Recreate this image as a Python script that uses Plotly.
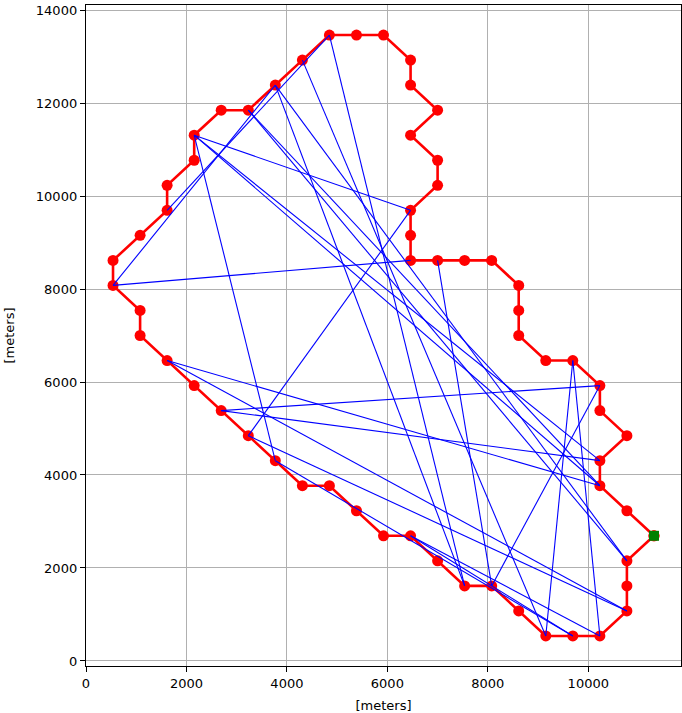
import plotly.graph_objects as go

# polygon vertices (meters), closed loop starting at the green start point
poly_x = [11308, 10769, 10231, 10231, 10769, 10231, 10231, 9692, 9154, 8615,
          8615, 8615, 8077, 7538, 7000, 6462, 6462, 6462, 7000, 7000,
          6462, 7000, 6462, 6462, 5923, 5385, 4846, 4308, 3769, 3231,
          2692, 2154, 2154, 1615, 1615, 1077, 538, 538, 1077, 1077,
          1615, 2154, 2692, 3231, 3769, 4308, 4846, 5385, 5923, 6462,
          7000, 7538, 8077, 8615, 9154, 9692, 10231, 10769, 10769, 10769]
poly_y = [2692, 3231, 3769, 4308, 4846, 5385, 5923, 6462, 6462, 7000,
          7538, 8077, 8615, 8615, 8615, 8615, 9154, 9692, 10231, 10769,
          11308, 11846, 12385, 12923, 13462, 13462, 13462, 12923, 12385, 11846,
          11846, 11308, 10769, 10231, 9692, 9154, 8615, 8077, 7538, 7000,
          6462, 5923, 5385, 4846, 4308, 3769, 3769, 3231, 2692, 2692,
          2154, 1615, 1615, 1077, 538, 538, 538, 1077, 1615, 2154]

# blue connections between polygon vertices (indices into poly_x / poly_y)
seg_a = [37, 37, 26, 31, 31, 17, 42, 42, 7, 7, 14, 52, 26, 28, 40, 40, 43, 31, 31, 29, 29, 27, 44, 49, 49, 28]
seg_b = [15, 28, 34, 44, 17, 43, 6, 3, 54, 56, 52, 6, 51, 51, 2, 57, 57, 3, 2, 59, 2, 54, 55, 56, 55, 59]

start_x = [11308]
start_y = [2692]

x_ticks = [0, 2000, 4000, 6000, 8000, 10000]
y_ticks = [0, 2000, 4000, 6000, 8000, 10000, 12000, 14000]

bx, by = [], []
for a, b in zip(seg_a, seg_b):
    bx += [poly_x[a], poly_x[b], None]
    by += [poly_y[a], poly_y[b], None]

fig = go.Figure()
fig.add_trace(go.Scatter(
    x=poly_x + [poly_x[0]], y=poly_y + [poly_y[0]], mode="lines+markers",
    line=dict(color="red", width=2.6), marker=dict(color="red", size=11),
    showlegend=False, hoverinfo="skip"))
fig.add_trace(go.Scatter(
    x=bx, y=by, mode="lines", line=dict(color="blue", width=1.1),
    showlegend=False, hoverinfo="skip"))
fig.add_trace(go.Scatter(
    x=start_x, y=start_y, mode="markers",
    marker=dict(color="green", size=10, symbol="square"),
    showlegend=False, hoverinfo="skip"))

axis_common = dict(
    showgrid=True, gridcolor="#b0b0b0", gridwidth=1,
    showline=True, linecolor="black", linewidth=1.2, mirror=True,
    ticks="outside", ticklen=5, tickcolor="black",
    zeroline=False, automargin=False,
    tickfont=dict(family="DejaVu Sans", size=13, color="black"),
    title_font=dict(family="DejaVu Sans", size=13, color="black"),
)
fig.update_xaxes(range=[0, 11846], tickvals=x_ticks,
                 ticktext=[str(v) for v in x_ticks], title_text="[meters]",
                 title_standoff=12, **axis_common)
fig.update_yaxes(range=[-108, 14108], tickvals=y_ticks,
                 ticktext=[str(v) for v in y_ticks], title_text="[meters]",
                 title_standoff=18, **axis_common)
fig.update_layout(
    width=682, height=713,
    margin=dict(l=86, r=1, t=5, b=47),
    plot_bgcolor="white", paper_bgcolor="white",
    font=dict(family="DejaVu Sans", size=13, color="black"),
    hovermode=False,
)
fig.write_html("out.html", config={"displayModeBar": False, "staticPlot": True},
               post_script="document.body.style.margin='0';document.body.style.overflow='hidden';")
